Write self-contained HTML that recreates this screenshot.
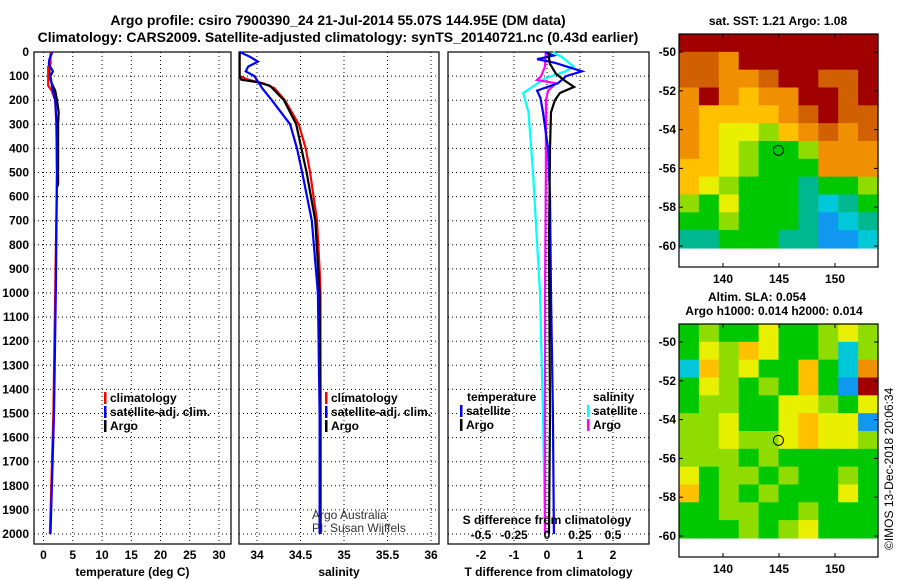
<!DOCTYPE html>
<html><head><meta charset="utf-8">
<style>
html,body{margin:0;padding:0;background:#fff;}
svg{display:block;font-family:"Liberation Sans",Arial,sans-serif;font-weight:bold;}
</style></head>
<body>
<svg id="chart" width="900" height="580" viewBox="0 0 900 580" xmlns="http://www.w3.org/2000/svg">
<rect width="900" height="580" fill="#fff"/>
<text x="338" y="25" font-size="14" text-anchor="middle">Argo profile: csiro 7900390_24 21-Jul-2014 55.07S 144.95E (DM data)</text>
<text x="338" y="42" font-size="14" text-anchor="middle">Climatology: CARS2009. Satellite-adjusted climatology: synTS_20140721.nc (0.43d earlier)</text>
<text x="778" y="25" font-size="12" text-anchor="middle">sat. SST: 1.21 Argo: 1.08</text>
<text x="757" y="301" font-size="12" text-anchor="middle">Altim. SLA: 0.054</text>
<text x="774" y="315" font-size="12" text-anchor="middle">Argo h1000: 0.014 h2000: 0.014</text>
<text font-size="12" font-weight="normal" transform="translate(893,550) rotate(-90)">©IMOS 13-Dec-2018 20:06:34</text>
<g id="g"></g>
</svg>
<script>
// ---------- data ----------
const depthTicks=[0,100,200,300,400,500,600,700,800,900,1000,1100,1200,1300,1400,1500,1600,1700,1800,1900,2000];
const tTicks=[0,5,10,15,20,25,30];
const sTicks=[34,34.5,35,35.5,36];
const sTickLabels=["34","34.5","35","35.5","36"];
const dTTicks=[-2,-1,0,1,2];
const dSTicks=[-0.5,-0.25,0,0.25,0.5];
const dSTickLabels=["-0.5","-0.25","0","0.25","0.5"];

const tClimDepth=[0,50,60,140,160,200,300,500,1000,1500,2000];
const tClimVal=[1.2,1.2,0.8,0.8,1.4,2.0,2.2,2.3,2.0,1.7,1.1];
const tSatDepth=[0,30,50,80,100,150,200,280,500,1000,1500,2000];
const tSatVal=[1.5,1.0,0.9,1.6,1.2,1.5,2.0,2.2,2.3,2.1,1.8,1.2];
const tArgoDepth=[0,50,100,130,160,200,250,300,550,560];
const tArgoVal=[1.3,1.0,1.0,1.4,2.0,2.3,2.6,2.5,2.5,2.3];

const sClimDepth=[0,100,115,130,150,200,300,400,500,700,900,1000,1500,2000];
const sClimVal=[33.80,33.80,33.90,34.07,34.20,34.32,34.48,34.56,34.61,34.69,34.72,34.73,34.73,34.73];
const sSatDepth=[0,20,40,60,80,100,150,200,300,400,500,700,1000,1500,2000];
const sSatVal=[33.80,33.92,34.01,33.90,33.87,33.97,34.06,34.17,34.38,34.46,34.52,34.63,34.70,34.72,34.72];
const sArgoDepth=[0,100,115,125,140,200,300,500,700,1000,1500,2000];
const sArgoVal=[33.80,33.80,33.82,34.00,34.15,34.31,34.45,34.57,34.67,34.72,34.73,34.73];

const dTSatDepth=[0,15,30,45,80,100,130,160,190,250,400,600,1000,1500,2000];
const dTSatVal=[-0.06,0.2,-0.3,0.24,1.06,0.58,0.33,-0.3,-0.2,-0.12,0.03,0.09,0.12,0.18,0.21];
const dTArgoDepth=[0,50,90,120,145,170,200,250,400,800,1500,2000];
const dTArgoVal=[0.03,0.09,0.27,0.55,0.82,0.39,0.24,0.12,0.09,0.06,0.09,0.06];
const dSSatDepth=[0,20,60,80,110,170,250,500,1000,1500,2000];
const dSSatVal=[0.045,0.11,0.20,0.14,-0.015,-0.18,-0.14,-0.106,-0.053,-0.03,-0.015];
const dSArgoDepth=[0,60,100,116,130,160,200,500,1000,2000];
const dSArgoVal=[-0.008,-0.015,-0.045,-0.076,0.068,0.008,-0.008,-0.008,-0.015,-0.015];

const mapLonTicks=[140,145,150];
const mapLatTicks=[-50,-52,-54,-56,-58,-60];
const sstGrid=[
[10,10,10,10,10,10,10,10,10,10],
[9,9,8,10,10,10,10,10,10,10],
[9,9,8,8,9,10,10,9,9,10],
[8,10,8,7,8,8,10,10,9,10],
[8,7,7,7,7,8,9,10,9,9],
[8,7,6,6,5,7,8,9,8,9],
[8,7,6,5,4,4,5,8,8,8],
[7,7,6,5,4,4,4,8,8,8],
[7,6,5,4,4,4,3,4,4,5],
[5,4,6,4,4,4,3,2,3,4],
[4,4,5,4,4,4,3,1,2,3],
[3,3,4,4,4,3,3,1,1,2]];
const slaGrid=[
[4,5,4,4,6,4,4,5,6,5],
[4,6,5,7,6,4,4,5,2,5],
[2,7,5,6,4,4,7,4,2,8],
[4,6,5,4,5,4,7,4,1,10],
[4,5,5,4,4,6,6,5,4,6],
[5,5,6,4,4,6,7,6,6,1],
[5,5,6,5,5,6,7,6,6,5],
[5,5,5,4,5,4,4,4,4,4],
[6,4,5,5,4,5,4,4,5,4],
[7,4,5,4,5,4,4,4,6,4],
[4,4,5,5,4,4,5,4,4,4],
[4,4,4,5,4,5,6,4,4,4]];
const floatLon=144.95, floatLat=-55.07;

// ---------- helpers ----------
const NS="http://www.w3.org/2000/svg";
const G=document.getElementById('g');
function mk(tag,attrs,parent){const e=document.createElementNS(NS,tag);for(const k in attrs)e.setAttribute(k,attrs[k]);(parent||G).appendChild(e);return e;}
function txt(x,y,s,attrs){const e=mk('text',Object.assign({x:x,y:y,'font-size':12},attrs||{}));e.textContent=s;return e;}
const yD=d=>52+d*0.241;
const PT={l:34,r:231,x:v=>43.5+v*5.85};
const PS={l:239,r:439,x:v=>257+(v-34)*87};
const PD={l:448,r:649,x:v=>547+v*33};
const xdS=v=>547+v*132;
const TOP=52,BOT=544;

function panel(P,name,xt,xlab,xfn,title,showY){
  const g=mk('g',{});
  
  
  depthTicks.forEach(d=>{const y=yD(d);
    mk('line',{x1:P.l,x2:P.r,y1:y,y2:y,stroke:'#000','stroke-dasharray':'1,3','stroke-width':1},g);
    if(showY){const t=txt(29,y+4,String(d),{'text-anchor':'end'});
      
      }
  });
  xt.forEach((v,i)=>{const x=xfn(v);
    mk('line',{x1:x,x2:x,y1:TOP,y2:BOT,stroke:'#000','stroke-dasharray':'1,3','stroke-width':1},g);
    const t=txt(x,559,xlab[i],{'text-anchor':'middle'});
    
    
  });
  const r=mk('rect',{x:P.l,y:TOP,width:P.r-P.l,height:BOT-TOP,fill:'none',stroke:'#000','stroke-width':1.2},g);
  const tt=txt((P.l+P.r)/2,576,title,{'text-anchor':'middle'});
  
  
}
function line(depths,vals,xfn,color,name){
  const pts=depths.map((d,i)=>xfn(vals[i]).toFixed(1)+','+yD(d).toFixed(1)).join(' ');
  const p=mk('polyline',{points:pts,fill:'none',stroke:color,'stroke-width':2.2});
  
  
}
function legend(x,y,color,label){
  const m=mk('rect',{x:x,y:y-10,width:2.5,height:12,fill:color});
  
  
  const t=txt(x+6,y,label);
  
  
}

// panel 1
panel(PT,'temperature-panel',tTicks,tTicks.map(String),PT.x,'temperature (deg C)',true);
line(tArgoDepth,tArgoVal,PT.x,'#000','argo-temperature-line');
line(tClimDepth,tClimVal,PT.x,'#f00','climatology-temperature-line');
line(tSatDepth,tSatVal,PT.x,'#00f','satellite-temperature-line');
legend(104,402,'#f00','climatology');
legend(104,416,'#00f','satellite-adj. clim.');
legend(104,430,'#000','Argo');

// panel 2
panel(PS,'salinity-panel',sTicks,sTickLabels,PS.x,'salinity',false);
line(sClimDepth,sClimVal,PS.x,'#f00','climatology-salinity-line');
line(sArgoDepth,sArgoVal,PS.x,'#000','argo-salinity-line');
line(sSatDepth,sSatVal,PS.x,'#00f','satellite-salinity-line');
legend(325,402,'#f00','climatology');
legend(325,416,'#00f','satellite-adj. clim.');
legend(325,430,'#000','Argo');
let c1=txt(312,519,'Argo Australia',{'font-weight':'normal','fill':'#333'});


let c2=txt(312,532,'PI: Susan Wijffels',{'font-weight':'normal','fill':'#333'});



// panel 3
panel(PD,'difference-panel',dTTicks,dTTicks.map(String),PD.x,'T difference from climatology',false);
line(dSSatDepth,dSSatVal,xdS,'#0ff','salinity-satellite-diff-line');
line(dSArgoDepth,dSArgoVal,xdS,'#f0f','salinity-argo-diff-line');
line(dTSatDepth,dTSatVal,PD.x,'#00f','temperature-satellite-diff-line');
line(dTArgoDepth,dTArgoVal,PD.x,'#000','temperature-argo-diff-line');
let lt=txt(467,401,'temperature');


legend(460,415,'#00f','satellite');
legend(460,429,'#000','Argo');
let ls=txt(593,401,'salinity');


legend(587,415,'#0ff','satellite');
legend(587,429,'#f0f','Argo');
let st=txt(547,524,'S difference from climatology',{'text-anchor':'middle'});


dSTicks.forEach((v,i)=>{const t=txt(xdS(v),539,dSTickLabels[i],{'text-anchor':'middle'});
  
  });

// maps
const cmap=['#1050f0','#1098f0','#00c8d8','#00b890','#00c800','#90dc00','#e8f000','#ffc000','#f09000','#d06000','#a00000'];
function map(top,grid,name){
  const M={l:679,r:878,t:top,b:top+233};
  const lonX=lo=>723+(lo-140)*11.2;
  const latY=la=>top+18+(-50-la)*19.4;
  const g=mk('g',{});
  
  
  const rows=grid.length, cols=grid[0].length;
  const x0=M.l, x1=M.r, y0=M.t, y1=latY(-60.1);
  const cw=(x1-x0)/cols, ch=(y1-y0)/rows;
  grid.forEach((row,ri)=>row.forEach((v,ci)=>{
    const c=mk('rect',{x:(x0+ci*cw).toFixed(2),y:(y0+ri*ch).toFixed(2),width:(cw+0.6).toFixed(2),height:(ch+0.6).toFixed(2),fill:cmap[v]},g);
    
    
  }));
  mk('rect',{x:M.l,y:M.t,width:M.r-M.l,height:M.b-M.t,fill:'none',stroke:'#000','stroke-width':1.2},g);
  mapLonTicks.forEach(lo=>{const x=lonX(lo);
    mk('line',{x1:x,x2:x,y1:M.t,y2:M.t+4,stroke:'#000'},g);
    mk('line',{x1:x,x2:x,y1:M.b,y2:M.b-4,stroke:'#000'},g);
    const t=txt(x,M.b+16,String(lo),{'text-anchor':'middle'});
    
    });
  mapLatTicks.forEach(la=>{const y=latY(la);
    mk('line',{x1:M.l,x2:M.l+4,y1:y,y2:y,stroke:'#000'},g);
    mk('line',{x1:M.r,x2:M.r-4,y1:y,y2:y,stroke:'#000'},g);
    const t=txt(M.l-3,y+4,String(la),{'text-anchor':'end'});
    
    });
  const m=mk('circle',{cx:lonX(floatLon),cy:latY(floatLat),r:5,fill:'none',stroke:'#000','stroke-width':1},g);
  
  
}
map(34,sstGrid,'sst-map');
map(324,slaGrid,'sla-map');
</script>
</body></html>
